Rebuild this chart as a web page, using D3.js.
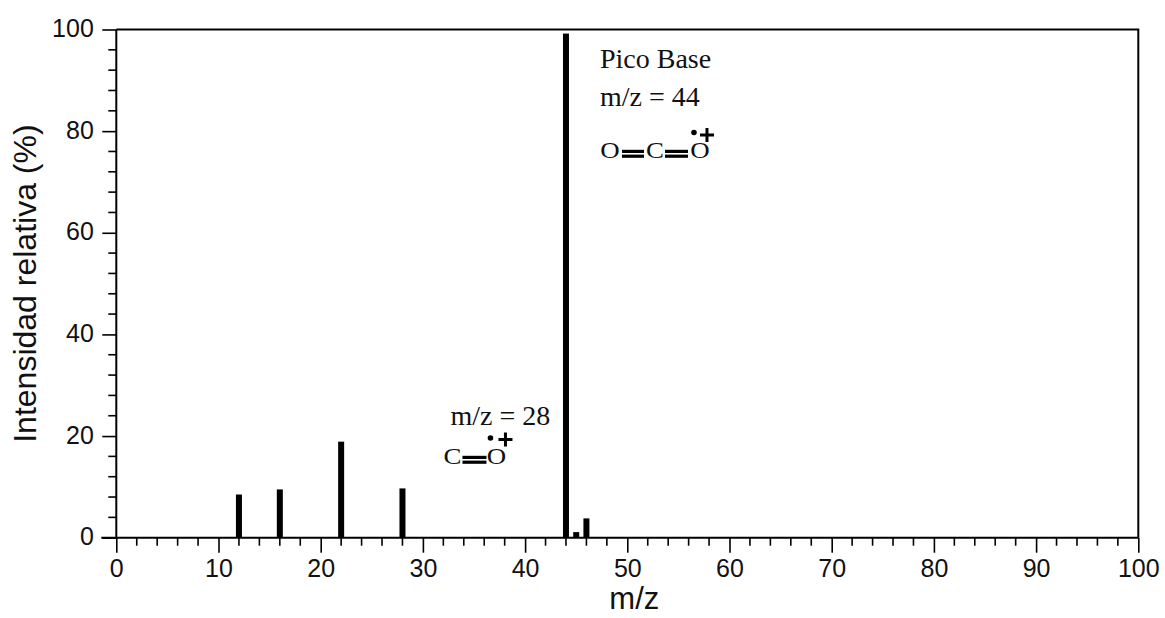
<!DOCTYPE html>
<html>
<head>
<meta charset="utf-8">
<script src="https://cdn.jsdelivr.net/npm/d3@7"></script>
<style>
  html, body { margin: 0; padding: 0; background: #ffffff; }
  svg { display: block; }
</style>
</head>
<body>
<svg id="chart" width="1165" height="618"></svg>
<script>
// ---- data ----
const mzValues = [12, 16, 22, 28, 44, 45, 46];
const intensities = [8.5, 9.5, 18.9, 9.7, 99.2, 1.1, 3.8];
const xTickValues = [0, 10, 20, 30, 40, 50, 60, 70, 80, 90, 100];
const yTickValues = [0, 20, 40, 60, 80, 100];
const xLabel = "m/z";
const yLabel = "Intensidad relativa (%)";
const basePeakLines = ["Pico Base", "m/z = 44"];
const peak28Label = "m/z = 28";

const svg = d3.select("#chart");
const W = 1165, H = 618;
const margin = { left: 116.3, right: 26.7, top: 29.5, bottom: 80.3 };

const x = d3.scaleLinear().domain([0, 100]).range([margin.left, W - margin.right]);
const y = d3.scaleLinear().domain([0, 100]).range([H - margin.bottom, margin.top]);

const sans = "'Liberation Sans', Arial, Helvetica, sans-serif";
const serif = "'Liberation Serif', 'Times New Roman', Times, serif";

// frame (top & right)
svg.append("path")
  .attr("d", `M${x(0)},${y(100)}H${x(100)}V${y(0)}`)
  .attr("fill", "none").attr("stroke", "#000").attr("stroke-width", 2);

// bars
const bw = 6;
svg.append("g").selectAll("rect")
  .data(mzValues.map((m, i) => ({ m, v: intensities[i] })))
  .join("rect")
  .attr("x", d => x(d.m) - bw / 2)
  .attr("width", bw)
  .attr("y", d => y(d.v))
  .attr("height", d => y(0) - y(d.v))
  .attr("fill", "#000");

// x axis
const xMinor = d3.range(0, 101, 2).filter(v => v % 10 !== 0);
const gx = svg.append("g").attr("transform", `translate(0,${y(0)})`);
gx.call(d3.axisBottom(x).tickValues(xTickValues).tickSize(15).tickPadding(7).tickFormat(d3.format("d")))
  .call(g => g.select(".domain").attr("stroke-width", 2).attr("d", `M${x(0) - 15},0H${x(100)}`))
  .call(g => g.selectAll(".tick line").attr("stroke-width", 1.6))
  .call(g => g.selectAll(".tick text").attr("font-family", sans).attr("font-size", 25).attr("fill", "#111"));
gx.append("g").selectAll("line").data(xMinor).join("line")
  .attr("x1", d => x(d)).attr("x2", d => x(d)).attr("y1", 0).attr("y2", 8)
  .attr("stroke", "#000").attr("stroke-width", 1.6);

// y axis
const yMinor = d3.range(0, 101, 4).filter(v => v % 20 !== 0);
const gy = svg.append("g").attr("transform", `translate(${x(0)},0)`);
gy.call(d3.axisLeft(y).tickValues(yTickValues).tickSize(14).tickPadding(8.5).tickFormat(d3.format("d")))
  .call(g => g.select(".domain").attr("stroke-width", 2).attr("d", `M0,${y(0) + 1}V${y(100)}`))
  .call(g => g.selectAll(".tick line").attr("stroke-width", 1.6))
  .call(g => g.selectAll(".tick text").attr("font-family", sans).attr("font-size", 25).attr("fill", "#111").attr("dy", "0.28em"));
gy.append("g").selectAll("line").data(yMinor).join("line")
  .attr("y1", d => y(d)).attr("y2", d => y(d)).attr("x1", 0).attr("x2", -8)
  .attr("stroke", "#000").attr("stroke-width", 1.6);

// axis titles
svg.append("text")
  .attr("x", (x(0) + x(100)) / 2 + 7).attr("y", 609)
  .attr("text-anchor", "middle").attr("font-family", sans).attr("font-size", 31).attr("fill", "#111")
  .text(xLabel);
svg.append("text")
  .attr("transform", `translate(36,${(y(0) + y(100)) / 2 + 0}) rotate(-90)`)
  .attr("text-anchor", "middle").attr("font-family", sans).attr("font-size", 32).attr("fill", "#111")
  .text(yLabel);

// ---- annotations ----
function bond(g, x0, x1, yb) {
  g.append("rect").attr("x", x0).attr("y", yb - 8.2).attr("width", x1 - x0).attr("height", 3.2).attr("fill", "#000");
  g.append("rect").attr("x", x0).attr("y", yb - 3.4).attr("width", x1 - x0).attr("height", 3.2).attr("fill", "#000");
}
function atom(g, ch, cx, base) {
  g.append("text").attr("x", cx).attr("y", base).attr("text-anchor", "middle")
    .attr("font-family", serif).attr("font-size", 24).attr("fill", "#111")
    .attr("transform", `translate(${cx},0) scale(1.12,1) translate(${-cx},0)`).text(ch);
}
function radicalCation(g, dx, dy, px, py) {
  g.append("circle").attr("cx", dx).attr("cy", dy).attr("r", 2.8).attr("fill", "#000");
  g.append("rect").attr("x", px - 7).attr("y", py - 1.5).attr("width", 14).attr("height", 3).attr("fill", "#000");
  g.append("rect").attr("x", px - 1.5).attr("y", py - 7).attr("width", 3).attr("height", 14).attr("fill", "#000");
}

// base peak annotation (anchored to the m/z 44 bar)
const a1 = svg.append("g").attr("transform", `translate(${x(44) + 34},0)`);
a1.selectAll("text.lbl").data(basePeakLines).join("text").attr("class", "lbl")
  .attr("x", 0).attr("y", (d, i) => 68 + i * 38)
  .attr("font-family", serif).attr("font-size", 28).attr("fill", "#111").text(d => d);
atom(a1, "O", 10, 158);
bond(a1, 22, 44, 158);
atom(a1, "C", 55, 158);
bond(a1, 65, 88, 158);
atom(a1, "O", 100, 158);
radicalCation(a1, 94, 132.5, 107, 135);

// m/z 28 annotation
const a2 = svg.append("g").attr("transform", `translate(${x(28) + 48},0)`);
a2.append("text").attr("x", 0).attr("y", 425)
  .attr("font-family", serif).attr("font-size", 28).attr("fill", "#111").text(peak28Label);
atom(a2, "C", 2, 464);
bond(a2, 12, 36, 464);
atom(a2, "O", 46, 464);
radicalCation(a2, 40, 438, 55, 439.5);
</script>
</body>
</html>
